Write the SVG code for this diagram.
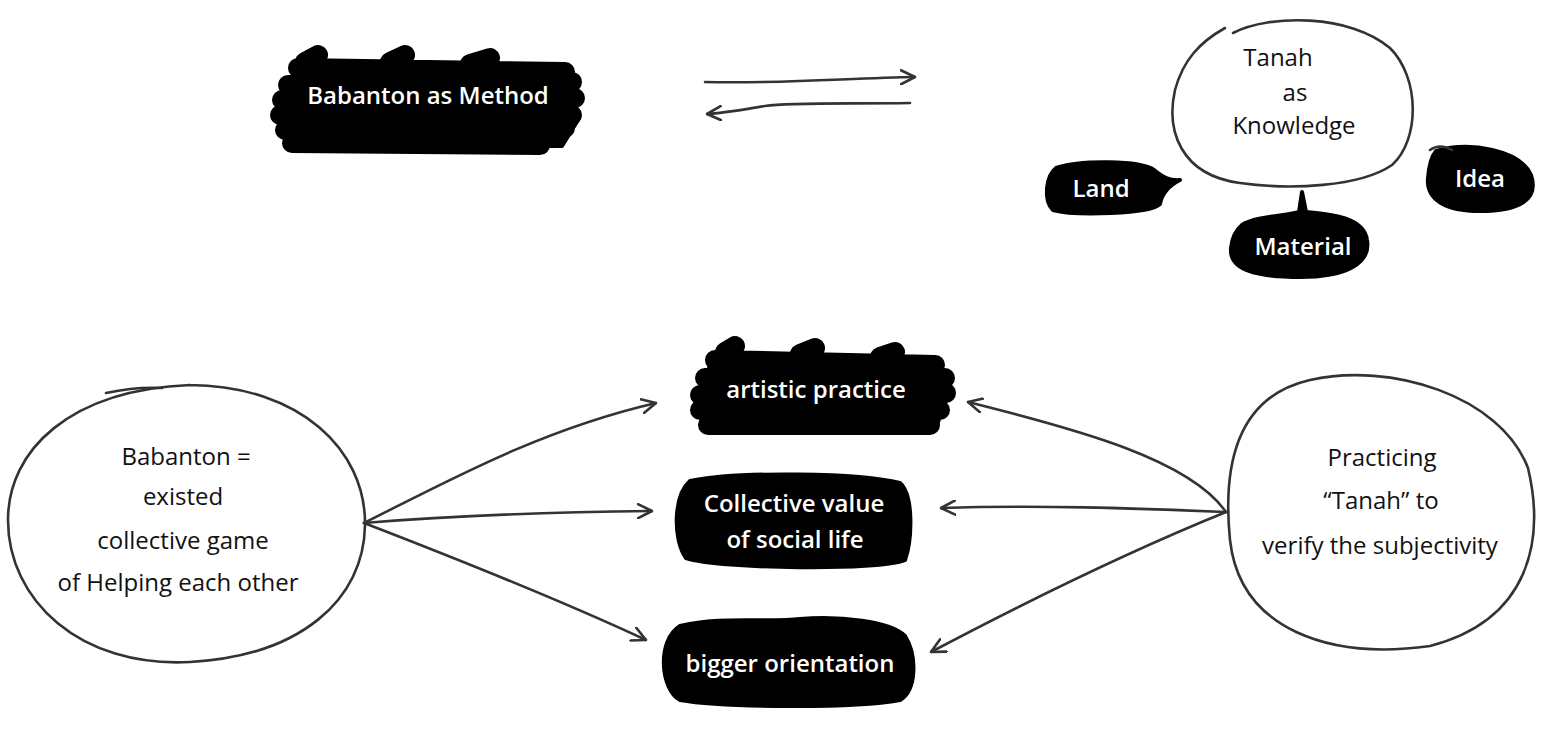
<svg xmlns="http://www.w3.org/2000/svg" width="1551" height="735" viewBox="0 0 1551 735">
<defs>
<style>
.ink{fill:none;stroke:#333;stroke-width:2.6;stroke-linecap:round;stroke-linejoin:round}
.blob{fill:#000;stroke:#000;stroke-width:4;stroke-linejoin:round}
.scrib{fill:none;stroke:#000;stroke-width:20;stroke-linecap:round;stroke-linejoin:round}
.t{font-family:"Open Sans","Liberation Sans",sans-serif;font-size:24px;text-anchor:middle;fill:#111}
.w{fill:#fff;font-weight:600}
</style>
<marker id="ah2" viewBox="0 0 16 16" refX="15" refY="8" markerWidth="16" markerHeight="16" markerUnits="userSpaceOnUse" orient="auto">
<path d="M1,1 L15,8 L1,15" fill="none" stroke="#333" stroke-width="2.6" stroke-linecap="round" stroke-linejoin="round"/>
</marker>
</defs>
<rect width="1551" height="735" fill="#fff"/>

<g id="connectors">
<path class="ink" d="M705,82 C780,84 850,78 915,77" marker-end="url(#ah2)"/>
<path class="ink" d="M910,103 C850,104 790,102 765,106 C740,110 725,113 707,114" marker-end="url(#ah2)"/>
<path class="ink" d="M364,523 C450,480 540,430 656,403" marker-end="url(#ah2)"/>
<path class="ink" d="M364,523 C460,515 560,512 652,511" marker-end="url(#ah2)"/>
<path class="ink" d="M364,523 C460,560 560,600 646,640" marker-end="url(#ah2)"/>
<path class="ink" d="M1226,512 C1190,460 1080,430 968,402" marker-end="url(#ah2)"/>
<path class="ink" d="M1226,512 C1130,508 1040,505 941,508" marker-end="url(#ah2)"/>
<path class="ink" d="M1226,512 C1120,555 1020,605 931,652" marker-end="url(#ah2)"/>
</g>

<g id="babanton-method">
<path class="blob" d="M295,70 L570,68 L578,120 L562,146 L295,147 L278,120 Z"/>
<path class="scrib" d="M298,68 L565,72 M288,85 L572,82 M282,100 L575,98 M280,115 L572,115 M285,130 L565,128 M292,143 L540,145 M305,62 L318,55 M390,62 L405,55 M470,64 L490,58"/>
<text class="t w" x="428" y="104">Babanton as Method</text>
</g>

<g id="tanah-knowledge">
<path class="ink" d="M1233,33 C1270,14 1350,14 1390,48 C1420,78 1420,140 1392,165 C1360,187 1290,190 1240,183 C1180,175 1166,130 1175,90 C1183,60 1200,42 1225,28"/>
<text class="t" x="1278" y="66">Tanah</text>
<text class="t" x="1295" y="101">as</text>
<text class="t" x="1294" y="134">Knowledge</text>
</g>

<g id="land">
<path class="blob" d="M1056,168 C1080,160 1140,160 1154,170 C1164,178 1170,181 1180,180 C1168,186 1162,193 1160,204 C1150,214 1075,216 1053,210 C1043,200 1046,176 1056,168 Z"/>
<text class="t w" x="1101" y="197">Land</text>
</g>

<g id="material">
<path class="blob" d="M1242,225 C1256,216 1288,216 1299,212 L1302,192 L1306,212 C1332,214 1364,218 1367,240 C1371,264 1345,277 1300,277 C1256,277 1229,270 1231,248 C1232,238 1236,230 1242,225 Z"/>
<text class="t w" x="1303" y="255">Material</text>
</g>

<g id="idea">
<path class="blob" d="M1436,151 C1470,141 1520,150 1531,175 C1539,199 1520,211 1480,211 C1446,211 1426,200 1428,178 C1429,166 1431,157 1436,151 Z"/>
<path class="ink" d="M1430,150 C1437,145 1445,146 1452,150"/>
<text class="t w" x="1480" y="187">Idea</text>
</g>

<g id="babanton-circle">
<path class="ink" d="M190,385 C300,386 366,450 365,525 C364,600 300,656 190,662 C80,668 8,600 8,520 C8,450 70,390 190,385"/>
<path class="ink" d="M106,393 C125,389 145,387 162,388"/>
<text class="t" x="186" y="465">Babanton =</text>
<text class="t" x="183" y="505">existed</text>
<text class="t" x="183" y="549">collective game</text>
<text class="t" x="178" y="591">of  Helping each other</text>
</g>

<g id="artistic-practice">
<path class="blob" d="M712,360 L940,362 L948,395 L935,430 L710,432 L696,405 Z"/>
<path class="scrib" d="M715,360 L935,365 M705,378 L945,378 M700,395 L946,393 M700,410 L940,410 M708,425 L930,425 M725,352 L735,346 M800,354 L815,348 M880,357 L895,352"/>
<text class="t w" x="816" y="398">artistic practice</text>
</g>

<g id="collective-value">
<path class="blob" d="M690,481 C740,471 860,473 900,483 C914,496 912,540 905,560 C880,571 720,569 686,558 C673,540 673,496 690,481 Z"/>
<text class="t w" x="794" y="512">Collective value</text>
<text class="t w" x="795" y="548">of social life</text>
</g>

<g id="bigger-orientation">
<path class="blob" d="M680,626 C720,616 770,623 800,619 C840,616 890,621 905,636 C917,655 917,690 900,700 C850,709 720,707 680,700 C661,690 656,641 680,626 Z"/>
<text class="t w" x="790" y="672">bigger orientation</text>
</g>

<g id="practicing-tanah">
<path class="ink" d="M1310,380 C1390,362 1500,395 1528,468 C1545,540 1530,620 1430,646 C1330,660 1240,630 1230,540 C1222,460 1240,396 1310,380 Z"/>
<text class="t" x="1382" y="466">Practicing</text>
<text class="t" x="1381" y="509">“Tanah” to</text>
<text class="t" x="1380" y="554">verify the subjectivity</text>
</g>
</svg>
